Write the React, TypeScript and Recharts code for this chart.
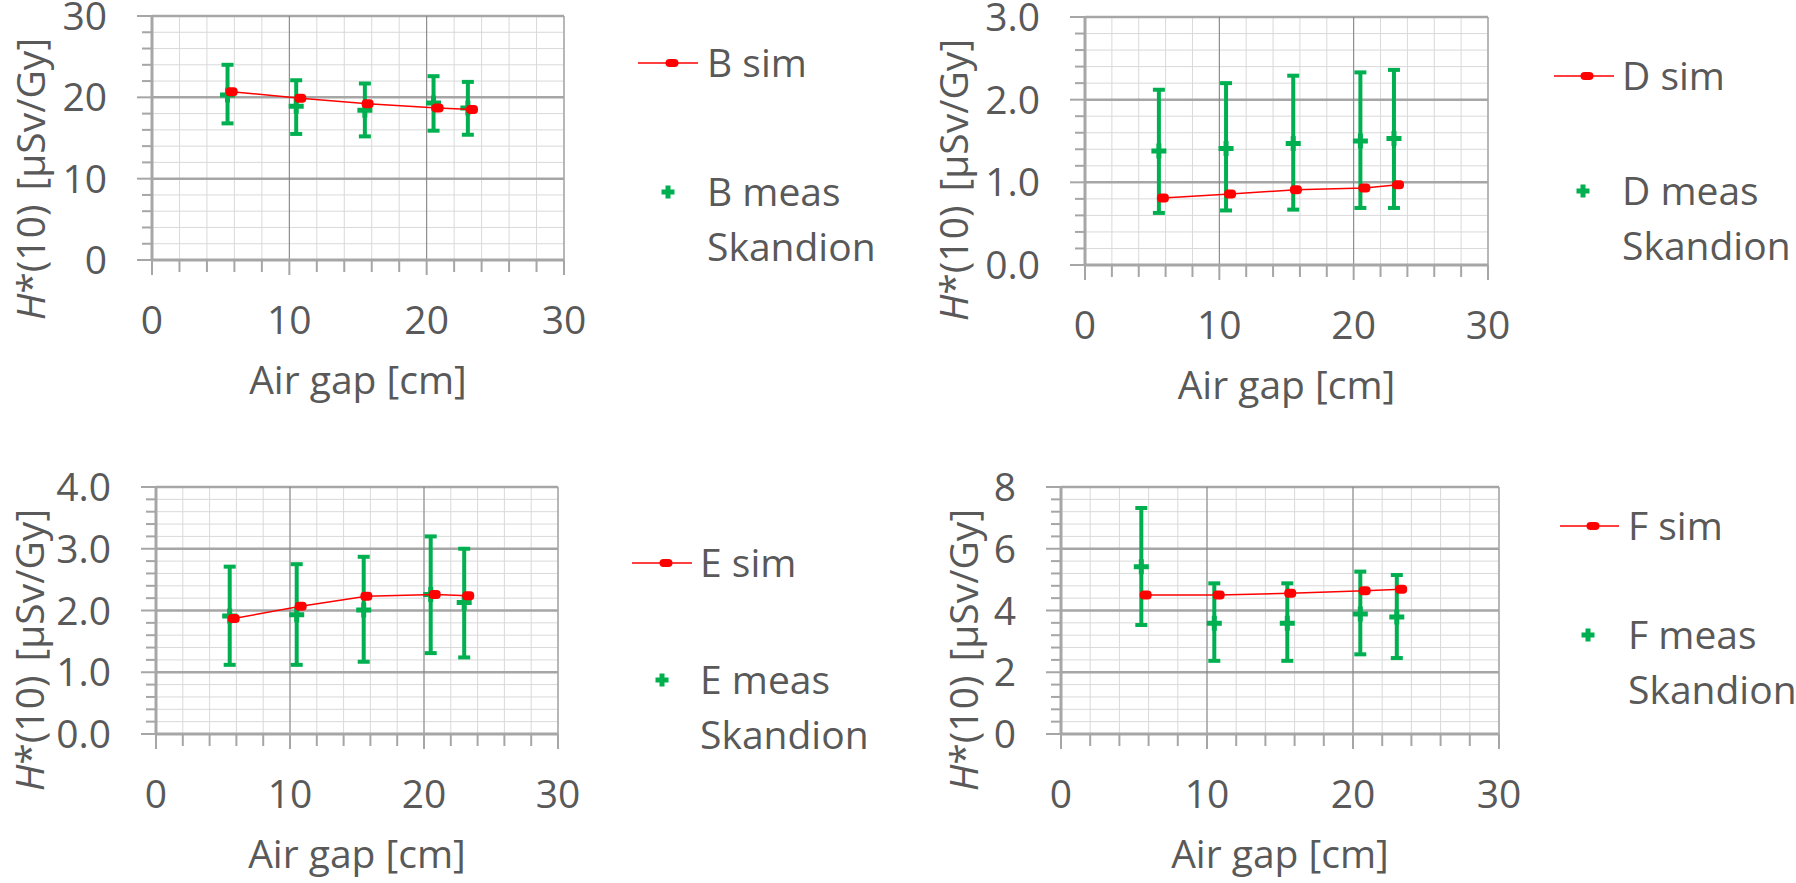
import React from 'react';
import { ComposedChart, Scatter, XAxis, YAxis, CartesianGrid, ReferenceLine, ErrorBar } from 'recharts';

const FONT = '"Open Sans", Lato, sans-serif';
const FS = 39;
const TEXT = '#595959';
const RED = '#FF0000';
const GREEN = '#00B050';
const MINOR_GRID = '#D9D9D9';
const MAJOR_GRID = '#A6A6A6';
const X_AXIS_H = 140;

// air gap positions [cm]
const simGaps = [5.8, 10.8, 15.7, 20.8, 23.3];
const measGaps = [5.5, 10.5, 15.5, 20.5, 23.0];

const xMinorTicks = [0, 2, 4, 6, 8, 10, 12, 14, 16, 18, 20, 22, 24, 26, 28, 30];
const xMajorTicks = [0, 10, 20, 30];
const xTickLabels = ['0', '10', '20', '30'];

// B
const bSim = [20.7, 19.9, 19.2, 18.7, 18.5];
const bMeas = [20.3, 18.9, 18.4, 19.3, 18.7];
const bMeasLow = [16.8, 15.5, 15.2, 15.9, 15.4];
const bMeasHigh = [24.0, 22.1, 21.7, 22.6, 21.9];
const bMinorTicks = [0, 2, 4, 6, 8, 10, 12, 14, 16, 18, 20, 22, 24, 26, 28, 30];
const bMajorTicks = [0, 10, 20, 30];
const bTickLabels = ['0', '10', '20', '30'];

// D
const dSim = [0.81, 0.86, 0.91, 0.93, 0.97];
const dMeas = [1.38, 1.41, 1.47, 1.5, 1.53];
const dMeasLow = [0.63, 0.66, 0.67, 0.69, 0.69];
const dMeasHigh = [2.12, 2.2, 2.29, 2.33, 2.36];
const dMinorTicks = [0, 0.2, 0.4, 0.6, 0.8, 1, 1.2, 1.4, 1.6, 1.8, 2, 2.2, 2.4, 2.6, 2.8, 3];
const dMajorTicks = [0, 1, 2, 3];
const dTickLabels = ['0.0', '1.0', '2.0', '3.0'];

// E
const eSim = [1.87, 2.07, 2.23, 2.26, 2.24];
const eMeas = [1.91, 1.93, 2.01, 2.26, 2.13];
const eMeasLow = [1.12, 1.12, 1.17, 1.31, 1.24];
const eMeasHigh = [2.71, 2.75, 2.87, 3.2, 3.0];
const eMinorTicks = [0, 0.2, 0.4, 0.6, 0.8, 1, 1.2, 1.4, 1.6, 1.8, 2, 2.2, 2.4, 2.6, 2.8, 3, 3.2, 3.4, 3.6, 3.8, 4];
const eMajorTicks = [0, 1, 2, 3, 4];
const eTickLabels = ['0.0', '1.0', '2.0', '3.0', '4.0'];

// F
const fSim = [4.5, 4.5, 4.56, 4.64, 4.69];
const fMeas = [5.42, 3.59, 3.59, 3.89, 3.79];
const fMeasLow = [3.53, 2.37, 2.37, 2.58, 2.46];
const fMeasHigh = [7.32, 4.88, 4.88, 5.26, 5.15];
const fMinorTicks = [0, 0.4, 0.8, 1.2, 1.6, 2, 2.4, 2.8, 3.2, 3.6, 4, 4.4, 4.8, 5.2, 5.6, 6, 6.4, 6.8, 7.2, 7.6, 8];
const fMajorTicks = [0, 2, 4, 6, 8];
const fTickLabels = ['0', '2', '4', '6', '8'];

const simRows = (ys: number[]) => simGaps.map((x, i) => ({ x, y: ys[i] }));
const measRows = (ys: number[], lo: number[], hi: number[]) =>
  measGaps.map((x, i) => ({ x, y: ys[i], err: [ys[i] - lo[i], hi[i] - ys[i]] }));

const panels = [
  {
    id: 'B',
    sim: simRows(bSim), meas: measRows(bMeas, bMeasLow, bMeasHigh),
    minor: bMinorTicks, major: bMajorTicks, labels: bTickLabels,
    chart: { x: 0, y: -30, w: 600, h: 450 }, plot: { l: 152, t: 16, r: 564, b: 260 },
    titleX: 29,
    legend: { x1: 638, x2: 698, y: 63, dot: 672, text: 707, plus: 668, measY: 192, skY: 247 },
  },
  {
    id: 'D',
    sim: simRows(dSim), meas: measRows(dMeas, dMeasLow, dMeasHigh),
    minor: dMinorTicks, major: dMajorTicks, labels: dTickLabels,
    chart: { x: 900, y: -30, w: 620, h: 450 }, plot: { l: 1085, t: 17, r: 1488, b: 265 },
    titleX: 952,
    legend: { x1: 1554, x2: 1614, y: 76, dot: 1587, text: 1622, plus: 1583, measY: 191, skY: 246 },
  },
  {
    id: 'E',
    sim: simRows(eSim), meas: measRows(eMeas, eMeasLow, eMeasHigh),
    minor: eMinorTicks, major: eMajorTicks, labels: eTickLabels,
    chart: { x: 0, y: 440, w: 600, h: 443 }, plot: { l: 156, t: 487, r: 558, b: 734 },
    titleX: 28,
    legend: { x1: 632, x2: 692, y: 563, dot: 666, text: 700, plus: 662, measY: 680, skY: 735 },
  },
  {
    id: 'F',
    sim: simRows(fSim), meas: measRows(fMeas, fMeasLow, fMeasHigh),
    minor: fMinorTicks, major: fMajorTicks, labels: fTickLabels,
    chart: { x: 900, y: 440, w: 630, h: 443 }, plot: { l: 1061, t: 487, r: 1499, b: 734 },
    titleX: 962,
    legend: { x1: 1560, x2: 1619, y: 526, dot: 1593, text: 1628, plus: 1588, measY: 635, skY: 690 },
  },
];

const plusPath = (cx: number, cy: number, s = 14, t = 5) => {
  const a = (s - t) / 2;
  return `M${cx - t / 2},${cy - s / 2}h${t}v${a}h${a}v${t}h${-a}v${a}h${-t}v${-a}h${-a}v${-t}h${a}z`;
};

const SimDot = (p: any) => (
  <rect x={p.cx - 6} y={p.cy - 4.5} width={12} height={9} rx={4} fill={RED} />
);
const MeasPlus = (p: any) => <path d={plusPath(p.cx, p.cy, 15, 5)} fill={GREEN} />;

const Panel = ({ cfg }: { cfg: any }) => {
  const { chart, plot } = cfg;
  const margin = {
    top: plot.t - chart.y,
    right: chart.x + chart.w - plot.r,
    bottom: chart.y + chart.h - plot.b - X_AXIS_H,
    left: 0,
  };
  const yMax = cfg.major[cfg.major.length - 1];

  const yTick = (p: any) => {
    const v = p.payload.value;
    const k = cfg.major.indexOf(v);
    return (
      <g>
        <line x1={p.x - (k >= 0 ? 15 : 10)} x2={p.x} y1={p.y} y2={p.y} stroke={MAJOR_GRID} strokeWidth={2} />
        {k >= 0 && (
          <text x={p.x - 45} y={p.y + FS * 0.36} textAnchor="end" fill={TEXT} fontSize={FS} fontFamily={FONT}>
            {cfg.labels[k]}
          </text>
        )}
      </g>
    );
  };

  const xTick = (p: any) => {
    const v = p.payload.value;
    const k = xMajorTicks.indexOf(v);
    return (
      <g>
        <line x1={p.x} x2={p.x} y1={p.y} y2={p.y + (k >= 0 ? 15 : 12)} stroke={MAJOR_GRID} strokeWidth={2} />
        {k >= 0 && (
          <text x={p.x} y={p.y + 74} textAnchor="middle" fill={TEXT} fontSize={FS} fontFamily={FONT}>
            {xTickLabels[k]}
          </text>
        )}
      </g>
    );
  };

  const yTitle = () => {
    const cx = cfg.titleX - chart.x;
    const cy = plot.t - chart.y + 163;
    return (
      <text x={cx} y={cy} transform={`rotate(-90, ${cx}, ${cy})`} textAnchor="middle" dominantBaseline="central"
        fill={TEXT} fontSize={FS} fontFamily={FONT}>
        <tspan fontStyle="italic">H</tspan>*(10)<tspan dx={14}>[µSv/Gy]</tspan>
      </text>
    );
  };

  const xTitle = () => {
    const cx = (plot.l + plot.r) / 2 - chart.x;
    const cy = plot.b - chart.y + 134;
    return (
      <text x={cx} y={cy} textAnchor="middle" fill={TEXT} fontSize={FS} fontFamily={FONT}>
        Air gap [cm]
      </text>
    );
  };

  return (
    <div style={{ position: 'absolute', left: chart.x, top: chart.y }}>
      <ComposedChart width={chart.w} height={chart.h} margin={margin}>
        <CartesianGrid stroke={MINOR_GRID} strokeWidth={1} />
        {cfg.major.filter((v: number) => v > 0).map((v: number) => (
          <ReferenceLine key={`h${v}`} y={v} stroke={MAJOR_GRID} strokeWidth={2.5} />
        ))}
        <ReferenceLine x={10} stroke="#808080" strokeWidth={1} />
        <ReferenceLine x={20} stroke="#808080" strokeWidth={1} />
        <ReferenceLine x={30} stroke={MAJOR_GRID} strokeWidth={1.5} />
        <XAxis
          type="number" dataKey="x" domain={[0, 30]} ticks={xMinorTicks} interval={0}
          allowDataOverflow height={X_AXIS_H} tickSize={0} tickMargin={0} tickLine={false}
          axisLine={{ stroke: MAJOR_GRID, strokeWidth: 3 }} tick={xTick}
          label={{ content: xTitle }}
        />
        <YAxis
          type="number" dataKey="y" domain={[0, yMax]} ticks={cfg.minor} interval={0}
          allowDataOverflow width={plot.l - chart.x} tickSize={0} tickMargin={0} tickLine={false}
          axisLine={{ stroke: MAJOR_GRID, strokeWidth: 3 }} tick={yTick}
          label={{ content: yTitle }}
        />
        <Scatter data={cfg.meas} shape={MeasPlus} isAnimationActive={false}>
          <ErrorBar dataKey="err" direction="y" width={6} stroke={GREEN} strokeWidth={4} isAnimationActive={false} />
        </Scatter>
        <Scatter data={cfg.sim} shape={SimDot} line={{ stroke: RED, strokeWidth: 1.5 }} isAnimationActive={false} />
      </ComposedChart>
    </div>
  );
};

const Legends = () => (
  <svg width={1796} height={883} style={{ position: 'absolute', left: 0, top: 0, pointerEvents: 'none' }}>
    {panels.map((p) => {
      const g = p.legend;
      return (
        <g key={p.id} fontFamily={FONT} fontSize={FS} fill={TEXT}>
          <line x1={g.x1} x2={g.x2} y1={g.y} y2={g.y} stroke={RED} strokeWidth={1.5} />
          <rect x={g.dot - 6.5} y={g.y - 4} width={13} height={8} rx={4} fill={RED} />
          <text x={g.text} y={g.y + FS * 0.36}>{p.id} sim</text>
          <path d={plusPath(g.plus, g.measY, 13, 5)} fill={GREEN} />
          <text x={g.text} y={g.measY + FS * 0.36}>{p.id} meas</text>
          <text x={g.text} y={g.skY + FS * 0.36}>Skandion</text>
        </g>
      );
    })}
  </svg>
);

export default function App() {
  return (
    <div style={{ position: 'absolute', left: 0, top: 0, width: 1796, height: 883, background: '#fff', overflow: 'hidden' }}>
      {panels.map((p) => (
        <Panel key={p.id} cfg={p} />
      ))}
      <Legends />
    </div>
  );
}
